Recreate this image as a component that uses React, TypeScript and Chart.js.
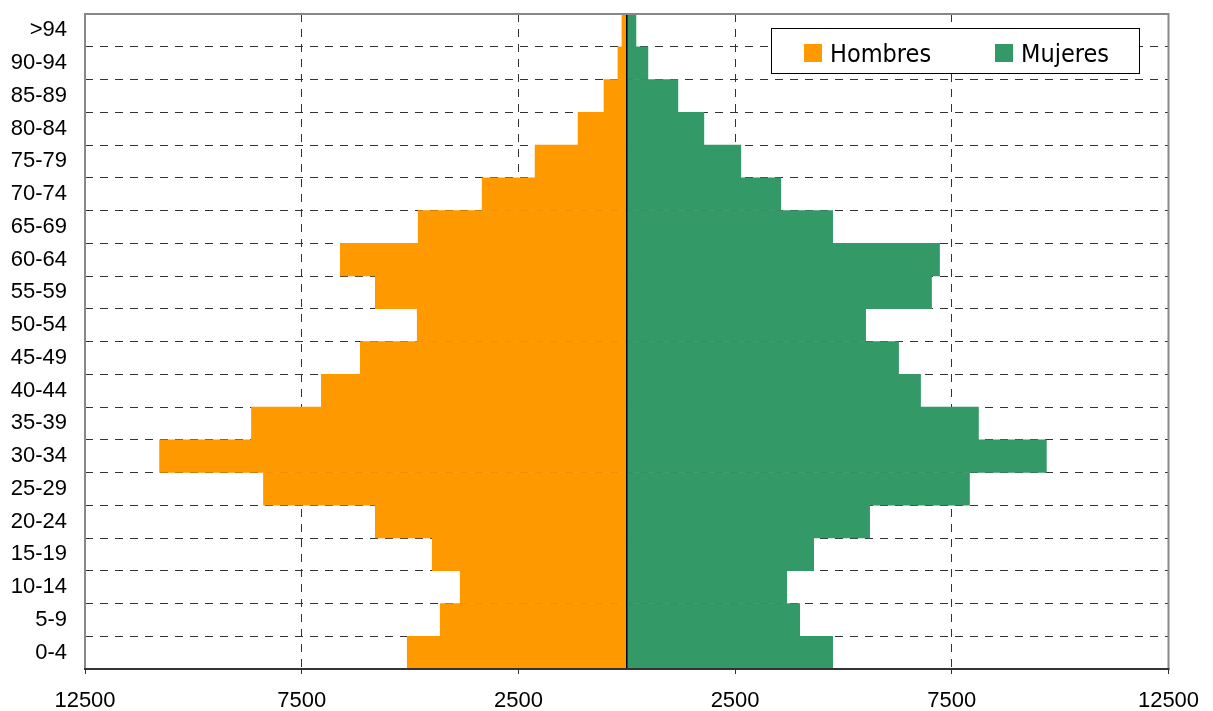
import { useEffect, useRef } from 'react';
import { Chart, registerables } from 'chart.js';

Chart.register(...registerables);

const ageGroups = ['0-4', '5-9', '10-14', '15-19', '20-24', '25-29', '30-34', '35-39', '40-44', '45-49', '50-54', '55-59', '60-64', '65-69', '70-74', '75-79', '80-84', '85-89', '90-94', '>94'];
const hombres = [5065, 4304, 3843, 4488, 5802, 8382, 10779, 8659, 7046, 6147, 4834, 5802, 6608, 4811, 3336, 2115, 1124, 525, 203, 110];
const mujeres = [4751, 3991, 3691, 4313, 5604, 7908, 9682, 8115, 6779, 6272, 5512, 7032, 7217, 4751, 3553, 2631, 1779, 1180, 488, 212];
const seriesLabels = ['Hombres', 'Mujeres'];
const seriesColors = ['#FF9900', '#339966'];
const xTickValues = [-12500, -7500, -2500, 2500, 7500, 12500];

const centerAndBorderPlugin = {
  id: 'centerAndBorder',
  afterDatasetsDraw(chart: any) {
    const { ctx, chartArea, scales } = chart;
    const { left, right, top, bottom } = chartArea;
    ctx.save();
    const x0 = scales.x.getPixelForValue(0);
    ctx.strokeStyle = '#000';
    ctx.lineWidth = 1.5;
    ctx.beginPath();
    ctx.moveTo(x0, top);
    ctx.lineTo(x0, bottom);
    ctx.stroke();

    ctx.strokeStyle = '#888';
    ctx.lineWidth = 2;
    ctx.beginPath();
    ctx.moveTo(left, bottom);
    ctx.lineTo(left, top);
    ctx.lineTo(right, top);
    ctx.lineTo(right, bottom);
    ctx.stroke();

    ctx.strokeStyle = '#333';
    ctx.lineWidth = 2;
    ctx.beginPath();
    ctx.moveTo(left - 1, bottom);
    ctx.lineTo(right + 1, bottom);
    ctx.stroke();
    ctx.restore();
  },
};

const boxLegendPlugin = {
  id: 'boxLegend',
  afterDraw(chart: any) {
    const { ctx, chartArea } = chart;
    const w = 368;
    const h = 45;
    const x0 = Math.round(chartArea.right - 30 - w);
    const y0 = Math.round(chartArea.top + 14);
    ctx.save();
    ctx.fillStyle = '#fff';
    ctx.fillRect(x0, y0, w, h);
    ctx.strokeStyle = '#000';
    ctx.lineWidth = 1;
    ctx.strokeRect(x0 + 0.5, y0 + 0.5, w, h);
    ctx.font = '25px "DejaVu Sans Condensed", "DejaVu Sans", sans-serif';
    ctx.textBaseline = 'alphabetic';
    ctx.textAlign = 'left';
    const offsets = [33, 224];
    chart.data.datasets.forEach((ds: any, i: number) => {
      const sx = x0 + offsets[i];
      ctx.fillStyle = ds.backgroundColor;
      ctx.fillRect(sx, y0 + 16, 18, 18);
      ctx.fillStyle = '#000';
      ctx.fillText(ds.label, sx + 26, y0 + 34);
    });
    ctx.restore();
  },
};

export default function App() {
  const canvasRef = useRef<HTMLCanvasElement | null>(null);

  useEffect(() => {
    document.body.style.margin = '0';
    const canvas = canvasRef.current;
    if (!canvas) return;
    const chart = new Chart(canvas, {
      type: 'bar',
      data: {
        labels: ageGroups,
        datasets: [
          {
            label: seriesLabels[0],
            data: hombres.map((v) => -v),
            backgroundColor: seriesColors[0],
            borderWidth: 0,
            barPercentage: 1,
            categoryPercentage: 1,
          },
          {
            label: seriesLabels[1],
            data: mujeres,
            backgroundColor: seriesColors[1],
            borderWidth: 0,
            barPercentage: 1,
            categoryPercentage: 1,
          },
        ],
      },
      options: {
        indexAxis: 'y',
        responsive: false,
        animation: false,
        devicePixelRatio: 1,
        layout: { padding: { top: 14, right: 44.5, left: 0, bottom: 0 } },
        plugins: {
          legend: { display: false },
          tooltip: { enabled: false },
        },
        scales: {
          x: {
            type: 'linear',
            stacked: true,
            min: -12500,
            max: 12500,
            afterBuildTicks: (scale: any) => {
              scale.ticks = xTickValues.map((v) => ({ value: v }));
            },
            afterFit: (scale: any) => {
              scale.height = 42;
              scale.paddingLeft = 0;
              scale.paddingRight = 0;
            },
            ticks: {
              color: '#000',
              padding: 14,
              maxRotation: 0,
              autoSkip: false,
              font: { family: '"Liberation Sans", Arial, sans-serif', size: 22 },
              callback: (value: any) => String(Math.abs(Number(value))),
            },
            grid: {
              color: '#333',
              lineWidth: 1,
              drawTicks: true,
              tickLength: 5,
              tickColor: '#333',
            },
            border: { display: false, dash: [8, 7] },
          },
          y: {
            type: 'category',
            stacked: true,
            reverse: true,
            afterFit: (scale: any) => {
              scale.width = 85;
              scale.paddingTop = 0;
              scale.paddingBottom = 0;
            },
            ticks: {
              color: '#000',
              padding: 18,
              autoSkip: false,
              font: { family: '"Liberation Sans", Arial, sans-serif', size: 22 },
            },
            grid: {
              color: '#333',
              lineWidth: 1,
              drawTicks: false,
            },
            border: { display: false, dash: [8, 7] },
          },
        },
      },
      plugins: [centerAndBorderPlugin, boxLegendPlugin],
    } as any);
    return () => {
      chart.destroy();
    };
  }, []);

  return (
    <div style={{ width: 1213, height: 711 }}>
      <canvas ref={canvasRef} width={1213} height={711} style={{ display: 'block' }} />
    </div>
  );
}
